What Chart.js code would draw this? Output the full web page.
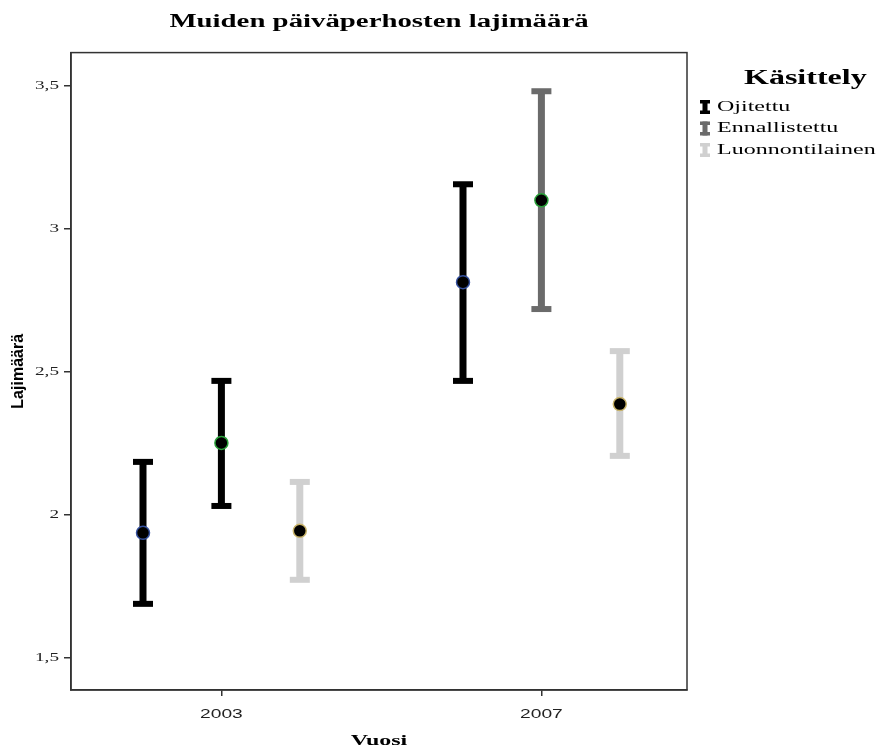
<!DOCTYPE html>
<html>
<head>
<meta charset="utf-8">
<script src="https://cdn.jsdelivr.net/npm/chart.js@4.4.1/dist/chart.umd.min.js"></script>
<style>
  html, body { margin: 0; padding: 0; background: #fff; }
  #wrap { width: 892px; height: 749px; position: relative; }
</style>
</head>
<body>
<div id="wrap"><canvas id="myChart"></canvas></div>
<script>
// data
const years = [2003, 2007];
const groups = ["Ojitettu", "Ennallistettu", "Luonnontilainen"];

const ojitettuMean = [1.937, 2.813];
const ojitettuLow = [1.689, 2.468];
const ojitettuHigh = [2.185, 3.155];

const ennallistettuMean = [2.251, 3.099];
const ennallistettuLow = [2.031, 2.719];
const ennallistettuHigh = [2.468, 3.48];

const luonnonMean = [1.944, 2.387];
const luonnonLow = [1.773, 2.206];
const luonnonHigh = [2.115, 2.572];

const yTicks = [1.5, 2, 2.5, 3, 3.5];

// styling
const groupOffset = [-0.98, 0, 0.98];
const barColors = [
  ["#000000", "#000000"],
  ["#000000", "#6b6b6b"],
  ["#d0d0d0", "#d0d0d0"],
];
const legendColors = ["#000000", "#6b6b6b", "#d0d0d0"];
const dotBorder = ["#34509e", "#2aa03a", "#c9b46a"];
const textStretch = 1.6; // the text in the picture is drawn wide

const means = [ojitettuMean, ennallistettuMean, luonnonMean];
const lows = [ojitettuLow, ennallistettuLow, luonnonLow];
const highs = [ojitettuHigh, ennallistettuHigh, luonnonHigh];

const datasets = groups.map((name, g) => ({
  label: name,
  data: years.map((yr, i) => ({ x: yr + groupOffset[g], y: means[g][i] })),
  low: lows[g],
  high: highs[g],
  barColor: barColors[g],
  pointRadius: 6.5,
  pointBackgroundColor: "#000",
  pointBorderColor: dotBorder[g],
  pointBorderWidth: 1.5,
  showLine: false,
}));

const serif = "'Liberation Serif', 'Times New Roman', serif";
const sans = "'Liberation Sans', Arial, sans-serif";

const canvas = document.getElementById("myChart");
const c2d = canvas.getContext("2d");

// widen horizontal text around its anchor point (rotated text is left as is)
const plainFillText = c2d.fillText.bind(c2d);
c2d.fillText = function (text, x, y) {
  const m = this.getTransform();
  if (m.b !== 0 || m.c !== 0) return plainFillText(text, x, y);
  this.save();
  this.translate(x, y);
  this.scale(textStretch, 1);
  plainFillText(text, 0, 0);
  this.restore();
};

// error bars, drawn under the dots
const errorBars = {
  id: "errorBars",
  beforeDatasetsDraw(chart) {
    const ctx = chart.ctx;
    const xs = chart.scales.x;
    const ys = chart.scales.y;
    chart.data.datasets.forEach((ds) => {
      ds.data.forEach((p, i) => {
        const x = xs.getPixelForValue(p.x);
        const yLo = ys.getPixelForValue(ds.low[i]);
        const yHi = ys.getPixelForValue(ds.high[i]);
        ctx.save();
        ctx.fillStyle = ds.barColor[i];
        ctx.fillRect(x - 3.5, yHi, 7, yLo - yHi);
        ctx.fillRect(x - 10, yHi - 3, 20, 6);
        ctx.fillRect(x - 10, yLo - 3, 20, 6);
        ctx.restore();
      });
    });
  },
};

// box around the plot + legend on the right
const frameAndLegend = {
  id: "frameAndLegend",
  afterDraw(chart) {
    const ctx = chart.ctx;
    const a = chart.chartArea;
    ctx.save();
    ctx.strokeStyle = "#333";
    ctx.lineWidth = 1.5;
    ctx.strokeRect(a.left, a.top, a.right - a.left, a.bottom - a.top);

    ctx.fillStyle = "#000";
    ctx.font = "bold 20px " + serif;
    ctx.textAlign = "left";
    ctx.textBaseline = "middle";
    ctx.fillText("Käsittely", 744, 79);

    ctx.font = "15px " + serif;
    groups.forEach((name, g) => {
      const y = 107 + g * 21.5;
      ctx.fillStyle = legendColors[g];
      ctx.fillRect(700, y - 7, 10, 3.5);
      ctx.fillRect(700, y + 3.5, 10, 3.5);
      ctx.fillRect(702.5, y - 7, 5, 14);
      ctx.fillStyle = "#000";
      ctx.fillText(name, 717, y);
    });
    ctx.restore();
  },
};

const myChart = new Chart(canvas, {
  type: "scatter",
  data: { datasets: datasets },
  plugins: [errorBars, frameAndLegend],
  options: {
    responsive: true,
    maintainAspectRatio: false,
    animation: false,
    layout: { padding: { left: 0, right: 205, top: 0, bottom: 0 } },
    plugins: {
      legend: { display: false },
      tooltip: { enabled: false },
      title: {
        display: true,
        text: "Muiden päiväperhosten lajimäärä",
        fullSize: false,
        color: "#000",
        font: { family: serif, size: 18, weight: "bold", lineHeight: 1.2 },
        padding: { top: 12, bottom: 19 },
      },
    },
    scales: {
      x: {
        type: "linear",
        min: 2001.12,
        max: 2008.82,
        afterBuildTicks: (axis) => {
          axis.ticks = years.map((v) => ({ value: v }));
        },
        afterFit: (axis) => {
          axis.height = 59;
        },
        grid: { drawOnChartArea: false, tickLength: 6, color: "#333", lineWidth: 1.5 },
        border: { color: "#333", width: 1.5 },
        ticks: {
          color: "#222",
          padding: 11,
          font: { family: sans, size: 12 },
          callback: (v) => String(v),
        },
        title: {
          display: true,
          text: "Vuosi",
          color: "#000",
          font: { family: serif, size: 15, weight: "bold", lineHeight: 1 },
          padding: { top: 0, bottom: 0.5 },
        },
      },
      y: {
        min: 1.388,
        max: 3.615,
        afterBuildTicks: (axis) => {
          axis.ticks = yTicks.map((v) => ({ value: v }));
        },
        afterFit: (axis) => {
          axis.width = 71;
        },
        grid: { drawOnChartArea: false, tickLength: 7, color: "#333", lineWidth: 1.5 },
        border: { color: "#333", width: 1.5 },
        ticks: {
          color: "#222",
          padding: 5,
          font: { family: serif, size: 12 },
          callback: (v) => String(v).replace(".", ","),
        },
        title: {
          display: true,
          text: "Lajimäärä",
          color: "#000",
          font: { family: sans, size: 16, weight: "bold", lineHeight: 1.2 },
          padding: { top: 9, bottom: 0 },
        },
      },
    },
  },
});
</script>
</body>
</html>
